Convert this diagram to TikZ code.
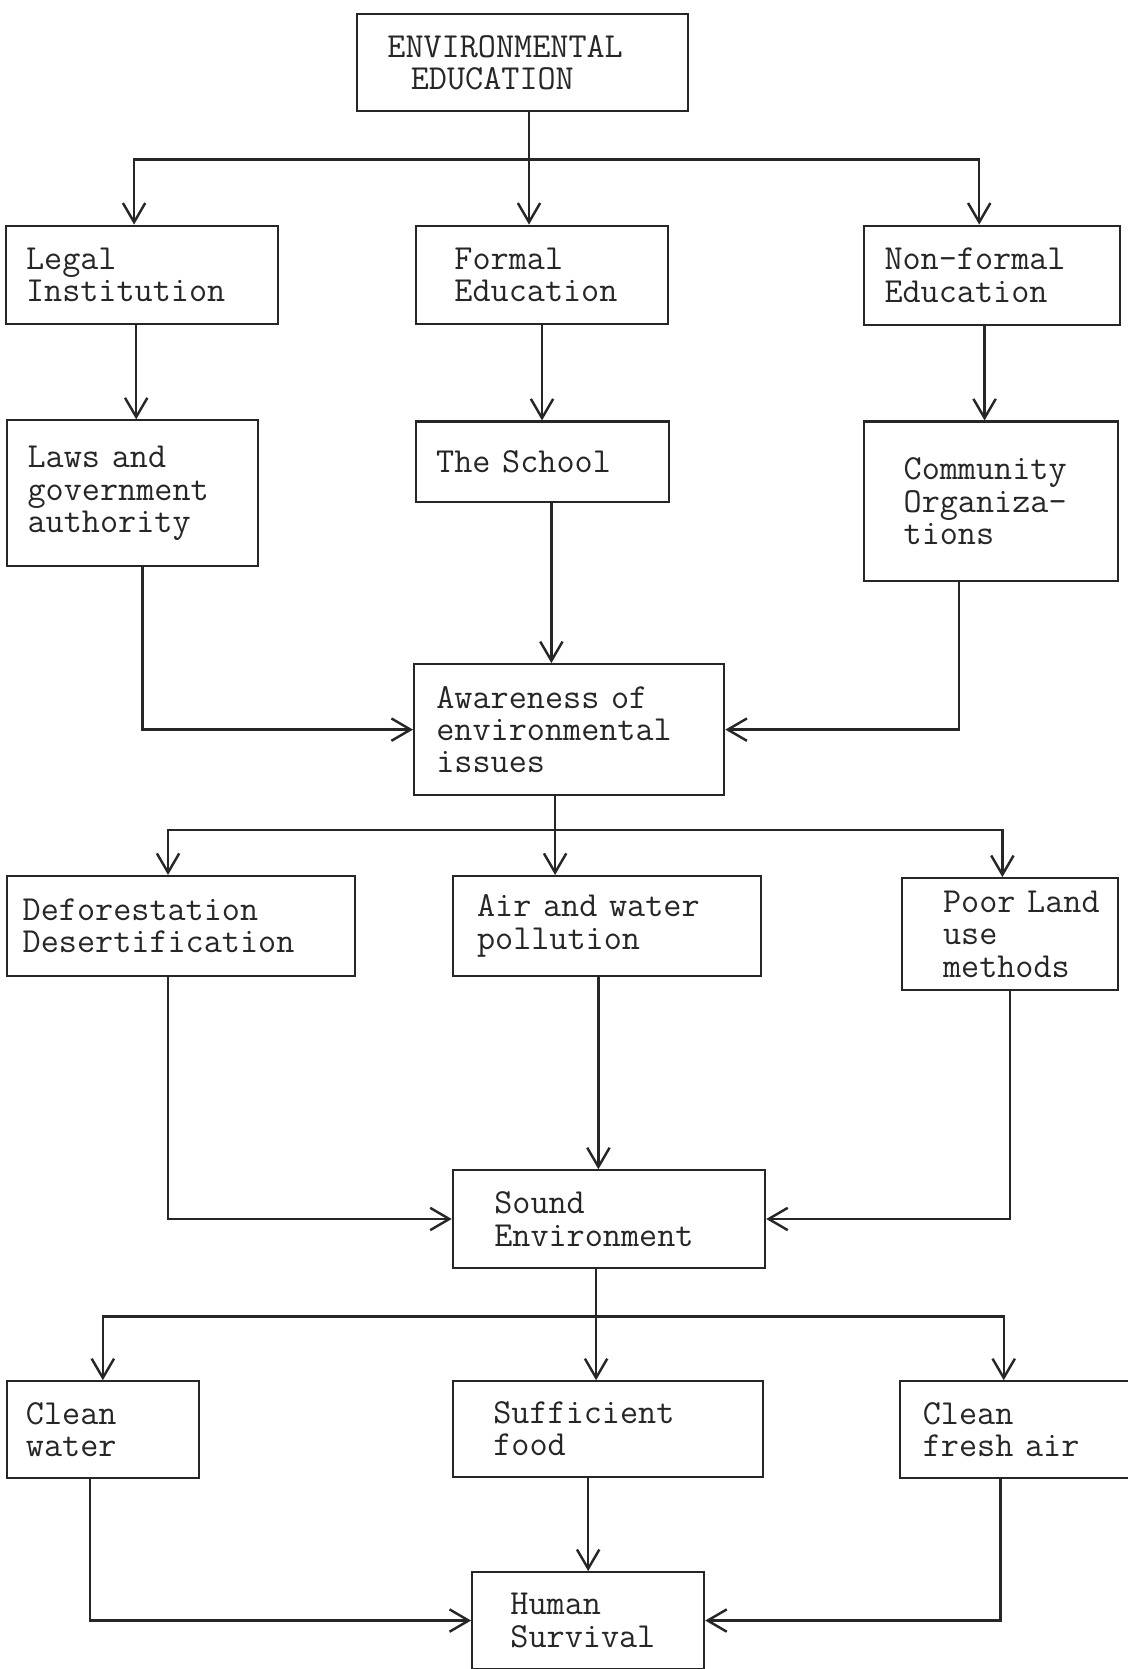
\documentclass[tikz,border=0pt]{standalone}
\usepackage{fontspec}
\usetikzlibrary{arrows.meta}
\definecolor{ink}{HTML}{262626}
\newcommand{\typed}{\ttfamily\fontsize{18.8}{17.3}\selectfont\lineskiplimit=-20pt\relax}

\begin{document}
\begin{tikzpicture}[x=0.2mm, y=-0.2mm,
	box/.style={draw=ink, line width=1.1pt, anchor=north west, align=left,
		inner ysep=0pt, text=ink, font=\typed},
	link/.style={draw=ink, line width=1.3pt},
	arr/.style={link, -{Straight Barb[length=3.6mm, width=4.2mm]}}]
	
	% 0. Page frame
	\useasboundingbox (0,0) rectangle (1059,1568);
	
	% 1. Top box and first level
	\node[box, text width=50.8mm, inner xsep=5.7mm, minimum height=18.2mm] (edu) at (334.5,12.5) {ENVIRONMENTAL\\~~EDUCATION};
	\node[box, text width=43.6mm, inner xsep=3.7mm, minimum height=18.4mm] (legal) at (5,211) {Legal\\Institution};
	\node[box, text width=32.9mm, inner xsep=7.2mm, minimum height=18.4mm] (formal) at (390,211) {Formal\\Education};
	\node[box, text width=40.4mm, inner xsep=3.8mm, minimum height=18.6mm] (nonformal) at (811,211) {Non-formal\\Education};
	
	% 2. Second level
	\node[box, text width=39.4mm, inner xsep=3.8mm, minimum height=27.4mm] (laws) at (6,394) {Laws and\\government\\authority};
	\node[box, text width=39.9mm, inner xsep=3.76mm, minimum height=15.2mm] (school) at (390,395) {The School};
	\node[box, text width=32.9mm, inner xsep=7.4mm, minimum height=30mm] (community) at (811,395) {Community\\Organiza-\\tions};
	
	% 3. Awareness
	\node[box, text width=49.9mm, inner xsep=4.2mm, minimum height=24.6mm] (aware) at (388,623) {Awareness of\\environmental\\issues};
	
	% 4. Problems
	\node[box, text width=59.4mm, inner xsep=3mm, minimum height=18.8mm] (defor) at (5.4,822) {Deforestation\\Desertification};
	\node[box, text width=48.8mm, inner xsep=4.6mm, minimum height=18.8mm] (air) at (424.2,822) {Air and water\\pollution};
	\node[box, text width=25.1mm, inner xsep=7.8mm, minimum height=21.1mm] (poor) at (846,824) {Poor~Land\\use\\methods};
	
	% 5. Sound environment
	\node[box, text width=43.1mm, inner xsep=7.8mm, minimum height=18.3mm] (sound) at (424.4,1098.5) {Sound\\Environment};
	
	% 6. Needs
	\node[box, text width=28.9mm, inner xsep=3.6mm, minimum height=18.2mm] (water) at (5.4,1296.7) {Clean\\water};
	\node[box, text width=43.1mm, inner xsep=7.5mm, minimum height=17.9mm] (food) at (425,1296.7) {Sufficient\\food};
	\node[box, text width=37.6mm, inner xsep=4.2mm, minimum height=18.2mm] (fresh) at (845,1296.7) {Clean\\fresh air};
	
	% 7. Human survival
	\node[box, text width=29.2mm, inner xsep=7.2mm, minimum height=18.2mm] (human) at (442.6,1476) {Human\\Survival};
	
	% 8. Branch points
	\coordinate (b1) at (497,150);
	\coordinate (b2) at (521.5,780);
	\coordinate (b3) at (560,1237);
	
	% 9. Connectors, top half
	\draw[link] (edu.south -| b1) -- (b1);
	\draw[arr] (b1) -| ([xshift=-1.5mm]legal.north);
	\draw[arr] (b1) -- (b1 |- formal.north);
	\draw[arr] (b1) -| ([xshift=-2.4mm]nonformal.north);
	\draw[arr] ([xshift=-1.1mm]legal.south) -- ([xshift=-1.1mm]legal.south |- laws.north);
	\draw[arr] (formal.south) -- (formal.south |- school.north);
	\draw[arr] ([xshift=-1.4mm]nonformal.south) -- ([xshift=-1.4mm]nonformal.south |- community.north);
	\draw[arr] ([xshift=1.7mm]school.south) -- ([xshift=1.7mm]school.south |- aware.north);
	\draw[arr] ([xshift=1.9mm]laws.south) |- (aware.west);
	\draw[arr] ([xshift=-6mm]community.south) |- (aware.east);
	
	% 10. Connectors, middle
	\draw[link] (aware.south -| b2) -- (b2);
	\draw[arr] (b2) -| ([xshift=-2.4mm]defor.north);
	\draw[arr] (b2) -- (b2 |- air.north);
	\draw[arr] (b2) -| ([xshift=-1.4mm]poor.north);
	\draw[arr] ([xshift=-2.4mm]defor.south) |- (sound.west);
	\draw[arr] ([xshift=-1.6mm]air.south) -- ([xshift=-1.6mm]air.south |- sound.north);
	\draw[arr] (poor.south) |- (sound.east);
	
	% 11. Connectors, bottom
	\draw[link] (sound.south -| b3) -- (b3);
	\draw[arr] (b3) -| (water.north);
	\draw[arr] (b3) -- (b3 |- food.north);
	\draw[arr] (b3) -| ([xshift=-3.6mm]fresh.north);
	\draw[arr] ([xshift=-2.4mm]water.south) |- (human.west);
	\draw[arr] (food.south -| human.north) -- (human.north);
	\draw[arr] ([xshift=-4.2mm]fresh.south) |- (human.east);
	
\end{tikzpicture}
\end{document}
